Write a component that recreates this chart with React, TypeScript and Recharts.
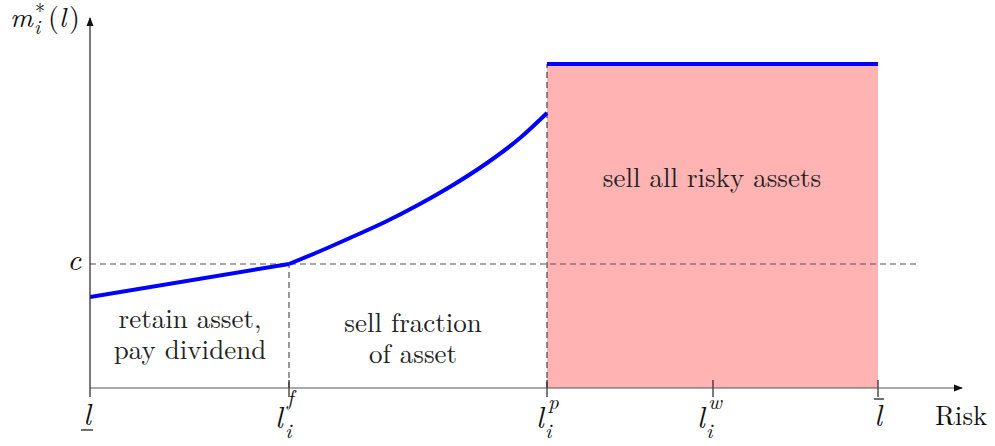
import React from 'react';
import {
  ComposedChart,
  Line,
  XAxis,
  YAxis,
  ReferenceArea,
  ReferenceLine,
  ReferenceDot,
  Label,
} from 'recharts';

const SERIF = 'Latin Modern Roman';

// thresholds on the risk axis
const lLow = 0;
const lF = 1.99;
const lP = 4.57;
const lW = 6.23;
const lHigh = 7.88;
const riskTicks = [lLow, lF, lP, lW, lHigh];
const tickNames = ['low', 'f', 'p', 'w', 'high'];

// levels on the m axis
const cLevel = 1.24;
const sellAllLevel = 3.24;
const yTicks = [cLevel];

// retain asset: straight segment up to l^f
const retainL = [0, 1.99];
const retainM = [0.91, 1.24];
// sell fraction: convex curve from l^f to l^p
const fractionL = [1.99, 2.28, 2.62, 2.95, 3.28, 3.63, 3.97, 4.3, 4.57];
const fractionM = [1.24, 1.36, 1.51, 1.66, 1.83, 2.03, 2.25, 2.5, 2.75];
// sell everything: flat from l^p to upper bound
const sellAllL = [4.57, 7.88];
const sellAllM = [3.24, 3.24];

const toRows = (ls: number[], ms: number[]) => ls.map((l, i) => ({ l, m: ms[i] }));

const retainData = toRows(retainL, retainM);
const fractionData = toRows(fractionL, fractionM);
const sellAllData = toRows(sellAllL, sellAllM);

const X_MAX = 8.72;
const Y_MAX = 3.7;

const serif = (size: number, italic = false): React.CSSProperties => ({
  fontFamily: SERIF,
  fontSize: size,
  fontStyle: italic ? 'italic' : 'normal',
  fill: '#111',
});

const RiskTick = (props: any) => {
  const { x, y, payload } = props;
  const name = tickNames[riskTicks.indexOf(payload.value)];
  const big = serif(30, true);
  const small = serif(21, true);
  if (name === 'low') {
    return (
      <g>
        <text x={x - 3} y={y + 37} textAnchor="middle" style={big}>l</text>
        <line x1={x - 9} x2={x + 3} y1={y + 42} y2={y + 42} stroke="#111" strokeWidth={1.2} />
      </g>
    );
  }
  if (name === 'high') {
    return (
      <g>
        <text x={x} y={y + 38} textAnchor="middle" style={big}>l</text>
        <line x1={x - 4} x2={x + 6} y1={y + 11} y2={y + 11} stroke="#111" strokeWidth={1.2} />
      </g>
    );
  }
  // l_i with superscript: [l, sup, sub] horizontal shifts
  const shift: Record<string, number[]> = { f: [-14, -2, -4], p: [-11, 1, -2], w: [-16, -5, -7] };
  const supY: Record<string, number> = { f: 17, p: 21, w: 21 };
  const [lx, supx, subx] = shift[name];
  return (
    <g>
      <text x={x + lx} y={y + 40} style={big}>l</text>
      <text x={x + supx} y={y + supY[name]} style={small}>{name}</text>
      <text x={x + subx} y={y + 50} style={small}>i</text>
    </g>
  );
};

const CTick = (props: any) => {
  const { x, y } = props;
  return (
    <text x={x - 9} y={y + 6} textAnchor="end" style={serif(30, true)}>
      c
    </text>
  );
};

const MTitle = (props: any) => {
  const { x, y } = props.viewBox;
  const bx = x - 20;
  const by = y + 9;
  return (
    <g>
      <text x={bx} y={by} style={serif(28, true)}>m</text>
      <text x={bx + 25} y={by - 9} style={serif(20)}>*</text>
      <text x={bx + 24} y={by + 7} style={serif(20, true)}>i</text>
      <text x={bx + 38} y={by} style={serif(28)}>(</text>
      <text x={bx + 49} y={by} style={serif(28, true)}>l</text>
      <text x={bx + 59} y={by} style={serif(28)}>)</text>
    </g>
  );
};

const RiskTitle = (props: any) => {
  const { x, y, width } = props.viewBox;
  return (
    <text x={x + width - 27} y={y + 37} style={serif(27)}>
      Risk
    </text>
  );
};

const note = (lines: string[]) => (p: any) => (
  <text x={p.cx} y={p.cy} textAnchor="middle" style={{ ...serif(27), fill: '#222' }}>
    {lines.map((t, i) => (
      <tspan key={t} x={p.cx} dy={i === 0 ? 0 : 31}>{t}</tspan>
    ))}
  </text>
);

const arrowRight = (p: any) => (
  <polygon points={`${p.cx + 1},${p.cy} ${p.cx - 8},${p.cy - 3.5} ${p.cx - 8},${p.cy + 3.5}`} fill="#111" />
);
const arrowUp = (p: any) => (
  <polygon points={`${p.cx},${p.cy - 1} ${p.cx - 3.5},${p.cy + 8} ${p.cx + 3.5},${p.cy + 8}`} fill="#111" />
);

const dash = { stroke: '#555', strokeDasharray: '6 4', strokeWidth: 1.2 };

export default function App() {
  return (
    <div style={{ position: 'absolute', left: 0, top: 0, background: '#fff' }}>
      <ComposedChart width={995} height={446} margin={{ top: 18, right: 33, bottom: 8, left: 30 }}>
        <XAxis
          dataKey="l"
          type="number"
          domain={[0, X_MAX]}
          ticks={riskTicks}
          allowDataOverflow
          height={50}
          tickLine={false}
          tickSize={0}
          tickMargin={0}
          tick={<RiskTick />}
          axisLine={{ stroke: '#555', strokeWidth: 1.2 }}
        >
          <Label content={<RiskTitle />} />
        </XAxis>
        <YAxis
          type="number"
          domain={[0, Y_MAX]}
          ticks={yTicks}
          allowDataOverflow
          width={60}
          tickLine={false}
          tickSize={0}
          tickMargin={0}
          tick={<CTick />}
          axisLine={{ stroke: '#222', strokeWidth: 1.2 }}
        >
          <Label content={<MTitle />} />
        </YAxis>

        <ReferenceArea x1={lP} x2={lHigh} y1={0} y2={sellAllLevel} fill="#ffb3b3" fillOpacity={1} stroke="none" />

        <ReferenceLine segment={[{ x: 0, y: cLevel }, { x: 8.3, y: cLevel }]} {...dash} />
        <ReferenceLine segment={[{ x: lF, y: 0 }, { x: lF, y: cLevel }]} {...dash} />
        <ReferenceLine segment={[{ x: lP, y: 0 }, { x: lP, y: sellAllLevel }]} {...dash} stroke="#444" />

        {riskTicks.map((t) => (
          <ReferenceLine
            key={t}
            ifOverflow="visible"
            segment={[{ x: t, y: -0.09 }, { x: t, y: t === lLow ? 0 : 0.08 }]}
            stroke="#222"
            strokeWidth={1.2}
          />
        ))}

        <ReferenceDot x={X_MAX} y={0} ifOverflow="visible" shape={arrowRight} />
        <ReferenceDot x={0} y={Y_MAX} ifOverflow="visible" shape={arrowUp} />

        <ReferenceDot x={1.0} y={0.6} ifOverflow="visible" shape={note(['retain asset,', 'pay dividend'])} />
        <ReferenceDot x={3.23} y={0.56} ifOverflow="visible" shape={note(['sell fraction', 'of asset'])} />
        <ReferenceDot x={6.22} y={2.01} ifOverflow="visible" shape={note(['sell all risky assets'])} />

        <Line data={retainData} dataKey="m" type="linear" stroke="#0000ff" strokeWidth={4} dot={false} isAnimationActive={false} />
        <Line data={fractionData} dataKey="m" type="monotone" stroke="#0000ff" strokeWidth={4} dot={false} isAnimationActive={false} />
        <Line data={sellAllData} dataKey="m" type="linear" stroke="#0000ff" strokeWidth={4} dot={false} isAnimationActive={false} />
      </ComposedChart>
    </div>
  );
}
